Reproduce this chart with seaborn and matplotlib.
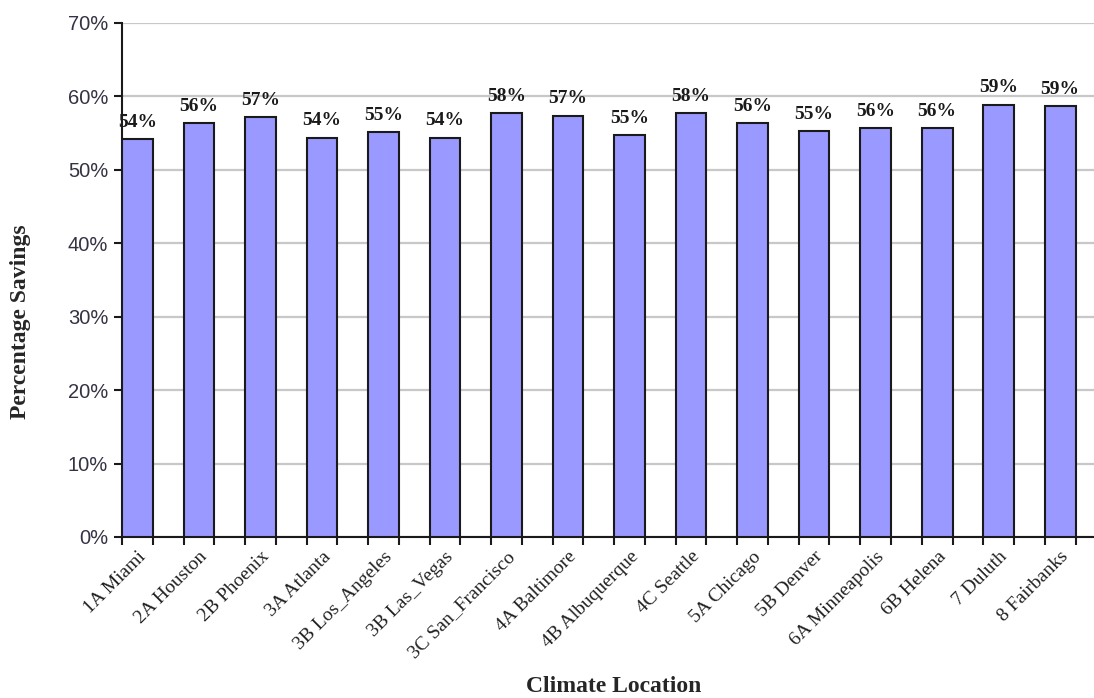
import matplotlib
matplotlib.use("Agg")
import matplotlib.pyplot as plt
import seaborn as sns
import pandas as pd
from matplotlib.ticker import PercentFormatter, FixedLocator

locations = ["1A Miami", "2A Houston", "2B Phoenix", "3A Atlanta", "3B Los_Angeles",
             "3B Las_Vegas", "3C San_Francisco", "4A Baltimore", "4B Albuquerque",
             "4C Seattle", "5A Chicago", "5B Denver", "6A Minneapolis", "6B Helena",
             "7 Duluth", "8 Fairbanks"]
savings = [0.542, 0.564, 0.572, 0.544, 0.551, 0.544, 0.577, 0.574, 0.547,
           0.577, 0.564, 0.553, 0.557, 0.557, 0.589, 0.587]
y_ticks = [0.0, 0.1, 0.2, 0.3, 0.4, 0.5, 0.6, 0.7]

df = pd.DataFrame({"Climate Location": locations, "Percentage Savings": savings})

sns.set_style("white")
plt.rcParams["font.family"] = ["Liberation Serif", "DejaVu Serif"]

fig = plt.figure(figsize=(10.94, 6.98), dpi=100)
ax = fig.add_axes([122/1094, 1 - 537/698, 1 - 122/1094, (537 - 23)/698])

sns.barplot(data=df, x="Climate Location", y="Percentage Savings", ax=ax,
            color="#9999FF", saturation=1, width=0.5,
            edgecolor="#1a1a1a", linewidth=1.5, zorder=3)

ax.set_ylim(0, 0.7)
ax.set_xlim(-0.25, 15.55)
ax.set_yticks(y_ticks)
ax.yaxis.set_major_formatter(PercentFormatter(1.0, decimals=0))
ax.grid(axis="y", color="#c8c8c8", linewidth=1.6, zorder=0)
ax.set_axisbelow(True)

for side in ["top", "right"]:
    ax.spines[side].set_visible(False)
for side in ["left", "bottom"]:
    ax.spines[side].set_color("#1a1a1a")
    ax.spines[side].set_linewidth(1.5)

# tick marks at bar edges, labels at centers
edges = []
for i in range(len(locations)):
    edges += [i - 0.25, i + 0.25]
ax.xaxis.set_major_locator(FixedLocator(list(range(len(locations)))))
ax.set_xticklabels(locations, rotation=45, ha="right", rotation_mode="anchor",
                   fontsize=14, family=["Liberation Serif"], color="#222222")
ax.tick_params(axis="x", which="major", length=0, pad=8)
ax.xaxis.set_minor_locator(FixedLocator(edges))
ax.tick_params(axis="x", which="minor", length=6, width=1.5, color="#1a1a1a",
               direction="out", bottom=True)
ax.tick_params(axis="y", length=6, width=1.5, color="#1a1a1a", direction="out",
               left=True, labelsize=14.5, labelcolor="#333344", pad=4)
for lbl in ax.get_yticklabels():
    lbl.set_family(["Liberation Sans"])

ax.bar_label(ax.containers[0], labels=[f"{v*100:.0f}%" for v in savings],
             padding=6, fontsize=14, fontweight="bold", color="#1a1a1a",
             family=["Liberation Serif"])

ax.set_xlabel("Climate Location", fontsize=17, fontweight="bold",
              family=["Liberation Serif"])
ax.set_ylabel("Percentage Savings", fontsize=17, fontweight="bold",
              family=["Liberation Serif"])
ax.xaxis.set_label_coords((614 - 122) / (1094 - 122), -(676 - 537) / (537 - 23))
ax.yaxis.set_label_coords(-(122 - 31) / (1094 - 122), (537 - 322) / (537 - 23))

fig.savefig("out.png", dpi=100)
